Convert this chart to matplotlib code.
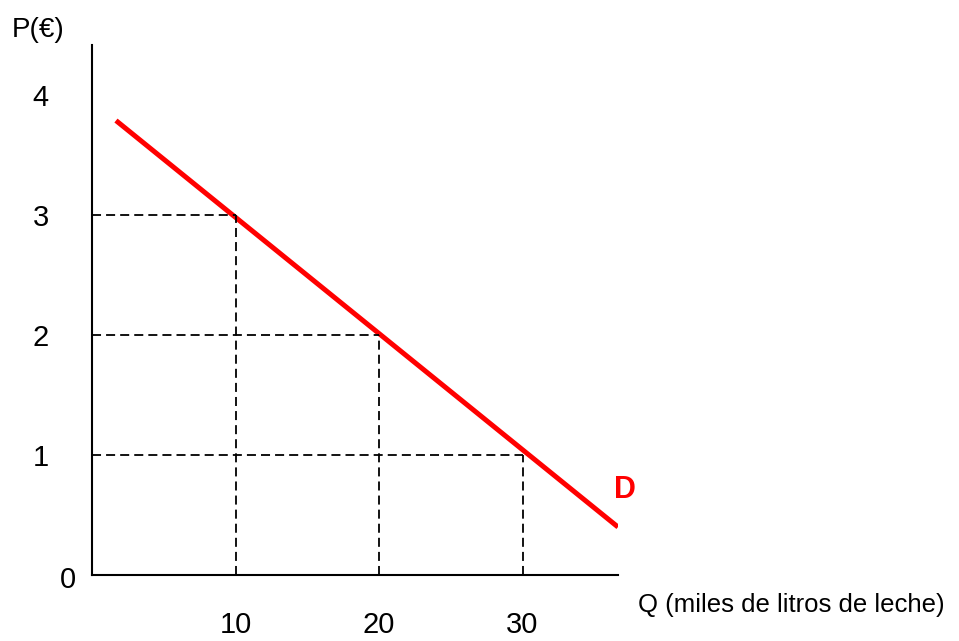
import matplotlib
matplotlib.use("Agg")
import matplotlib.pyplot as plt

plt.rcParams['font.family'] = ['Liberation Sans', 'DejaVu Sans']

# demand curve
q_demand = [1.67, 36.65]
p_demand = [3.79, 0.40]

# points marked with dashed guides
q_marks = [10, 20, 30]
p_marks = [3, 2, 1]

x_ticks = [10, 20, 30]
y_ticks = [1, 2, 3, 4]

XMAX = 36.65
YMAX = 4.42

fig = plt.figure(figsize=(9.59, 6.41), dpi=100)
ax = fig.add_axes([92 / 959, 66 / 641, 526 / 959, 530 / 641])

ax.plot(q_demand, p_demand, color="#ff0000", linewidth=3.6, solid_capstyle="butt")

for q, p in zip(q_marks, p_marks):
    ax.plot([0, q], [p, p], color="black", linewidth=1.3, linestyle=(0, (5, 2.8)))
    ax.plot([q, q], [0, p], color="black", linewidth=1.3, linestyle=(0, (5, 2.8)))

ax.set_xlim(0, XMAX)
ax.set_ylim(0, YMAX)

for s in ["top", "right"]:
    ax.spines[s].set_visible(False)
for s in ["left", "bottom"]:
    ax.spines[s].set_linewidth(1.5)

ax.set_xticks(x_ticks)
ax.set_yticks(y_ticks)
ax.tick_params(axis="x", length=0, pad=26, labelsize=21)
ax.tick_params(axis="y", length=0, pad=31, labelsize=21)

ax.text(-0.045, -0.01, "0", transform=ax.transAxes, fontsize=21,
        ha="center", va="center")
ax.text(-0.103, 1.028, "P(€)", transform=ax.transAxes, fontsize=20,
        ha="center", va="center")
ax.text(1.038, -0.057, "Q (miles de litros de leche)", transform=ax.transAxes,
        fontsize=18.5, ha="left", va="center")
ax.text(0.992, 0.16, "D", transform=ax.transAxes, fontsize=22,
        fontweight="bold", color="#ff0000", ha="left", va="center")

fig.savefig("out.png", dpi=100)
